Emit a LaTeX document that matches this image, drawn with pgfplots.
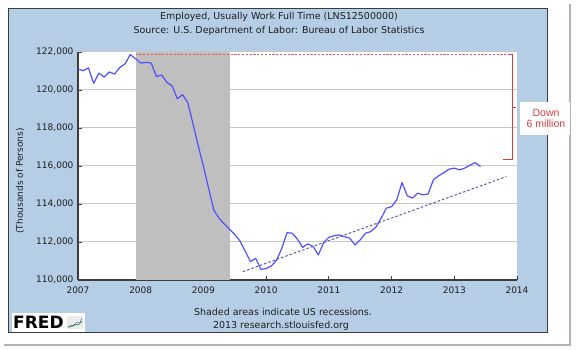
\documentclass[border=0pt]{standalone}
\usepackage{pgfplots}
\pgfplotsset{compat=1.18}
\usepackage{fontspec}
\setmainfont{DejaVu Sans}
\newfontfamily\arialfont{Liberation Sans}
\definecolor{panelblue}{RGB}{181,205,229}
\definecolor{recgray}{RGB}{191,191,191}
\definecolor{gridgray}{RGB}{200,200,200}
\definecolor{lineblue}{RGB}{80,80,255}
\definecolor{trendblue}{RGB}{90,90,165}
\definecolor{annred}{RGB}{220,60,60}
\definecolor{axisgray}{RGB}{60,60,60}
\definecolor{txt}{RGB}{30,30,30}

\pgfplotstableread{
x y
2007.000 121100
2007.083 121015
2007.167 121160
2007.250 120350
2007.333 120890
2007.417 120680
2007.500 120950
2007.583 120840
2007.667 121190
2007.750 121370
2007.833 121860
2007.917 121650
2008.000 121420
2008.083 121450
2008.167 121420
2008.250 120710
2008.333 120800
2008.417 120400
2008.500 120220
2008.583 119540
2008.667 119750
2008.750 119340
2008.833 118230
2008.917 117070
2009.000 115980
2009.083 114820
2009.167 113670
2009.250 113250
2009.333 112950
2009.417 112670
2009.500 112390
2009.583 112050
2009.667 111520
2009.750 110970
2009.833 111140
2009.917 110560
2010.000 110600
2010.083 110740
2010.167 111050
2010.250 111670
2010.333 112490
2010.417 112460
2010.500 112145
2010.583 111720
2010.667 111900
2010.750 111760
2010.833 111320
2010.917 111970
2011.000 112250
2011.083 112330
2011.167 112370
2011.250 112280
2011.333 112200
2011.417 111845
2011.500 112110
2011.583 112460
2011.667 112545
2011.750 112780
2011.833 113250
2011.917 113780
2012.000 113860
2012.083 114220
2012.167 115130
2012.250 114430
2012.333 114310
2012.417 114570
2012.500 114480
2012.583 114530
2012.667 115270
2012.750 115480
2012.833 115650
2012.917 115830
2013.000 115890
2013.083 115800
2013.167 115890
2013.250 116040
2013.333 116180
2013.417 115970
}\employed

\begin{document}
\begin{tikzpicture}
\begin{scope}[x=1pt,y=1pt]
\fill[white] (0,0) rectangle (576,350);
% screenshot shadow
\draw[gray!60, line width=1.6pt] (570,346) -- (570,6);
\draw[gray!60, line width=1.6pt] (4,5) -- (570.8,5);
% panel
\fill[panelblue] (8,342) rectangle (547,18);
\draw[axisgray, line width=0.8pt] (8,342) rectangle (547,18);
\end{scope}

\begin{axis}[at={(78pt,70pt)}, anchor=south west, scale only axis,
  width=439pt, height=228pt,
  xmin=2007, xmax=2014, ymin=110000, ymax=122000,
  axis background/.style={fill=white},
  axis lines*=left,
  axis line style={-, axisgray, line width=1.1pt},
  tick align=inside, major tick length=4pt,
  tick style={axisgray, line width=0.8pt},
  ymajorgrids, grid style={gridgray, line width=1pt},
  xtick={2007,2008,...,2014},
  ytick={110000,112000,...,122000},
  scaled y ticks=false,
  /pgf/number format/assume math mode=true,
  tick label style={txt, font=\fontsize{9}{10}\selectfont},
  x tick label style={/pgf/number format/.cd, fixed, 1000 sep={}, /tikz/.cd, yshift=-3pt},
  y tick label style={/pgf/number format/.cd, fixed, 1000 sep={,}, /tikz/.cd, xshift=-1pt},
  clip=true,
]
% recession
\addplot[draw=none, fill=recgray] coordinates {(2007.917,110000) (2007.917,122000) (2009.417,122000) (2009.417,110000)};
% red annotation
\addplot[annred!85, line width=1pt, dash pattern=on 2.2pt off 1.6pt] coordinates {(2007.92,121880) (2013.9,121880)};
\addplot[annred, line width=0.9pt] coordinates {(2013.88,121880) (2013.92,121880) (2013.92,116330) (2013.78,116330)};
\addplot[annred, line width=0.9pt] coordinates {(2013.92,119080) (2013.985,119080)};
% trend
\addplot[trendblue, line width=1pt, dash pattern=on 2.5pt off 2pt] coordinates {(2009.63,110440) (2013.83,115440)};
% data
\addplot[lineblue, line width=1.2pt, line join=round] table[x=x,y=y] {\employed};
\end{axis}

\begin{scope}[x=1pt,y=1pt]
% titles
\node[txt, font=\fontsize{9.5}{11}\selectfont] at (279,333) {Employed, Usually Work Full Time (LNS12500000)};
\node[txt, font=\fontsize{9.5}{11}\selectfont] at (279,319) {Source: U.S. Department of Labor: Bureau of Labor Statistics};
\node[txt, font=\fontsize{9}{11}\selectfont, rotate=90] at (20,169) {(Thousands of Persons)};
\node[txt, font=\fontsize{9.5}{11}\selectfont] at (283,38) {Shaded areas indicate US recessions.};
\node[txt, font=\fontsize{9.5}{11}\selectfont] at (281,24) {2013 research.stlouisfed.org};

% FRED logo
\fill[white] (12,37) rectangle (85,17.5);
\node[anchor=west, inner sep=0pt, font=\fontsize{17}{17}\bfseries] at (13,27.5) {FRED};
\fill[gray!15] (67,21) rectangle (83,34);
\draw[blue!60, line width=0.5pt] (68,22) -- (71,25) -- (74,24) -- (77,28) -- (80,27) -- (82,32);
\draw[green!50!black, line width=0.5pt] (68,23) -- (72,23.5) -- (75,26) -- (78,25) -- (82,29);

% Down 6 million
\fill[white] (520,248) rectangle (570,215);
\node[annred, font=\arialfont\fontsize{10.5}{11.5}\selectfont, align=center] at (546,231.5) {Down\\6 million};
\end{scope}
\end{tikzpicture}
\end{document}
